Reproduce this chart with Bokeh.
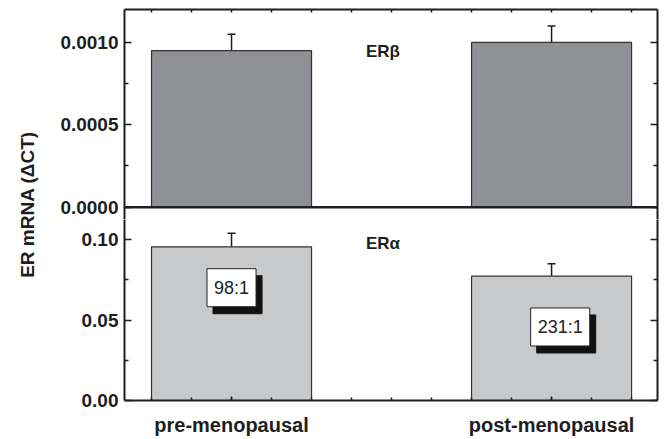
import math
from bokeh.plotting import figure
from bokeh.layouts import row, column
from bokeh.models import (Range1d, LinearAxis, FixedTicker, PrintfTickFormatter, Label,
                          ColumnDataSource, Whisker, TeeHead, Span, CustomJSTickFormatter)
from bokeh.embed import file_html
from bokeh.resources import INLINE

# ---------------- data ----------------
groups = ["pre-menopausal", "post-menopausal"]
er_beta_mean = [0.00095, 0.00100]
er_beta_err = [0.00010, 0.00010]
er_alpha_mean = [0.0955, 0.0773]
er_alpha_err = [0.0085, 0.0077]
ratio_labels = ["98:1", "231:1"]
ratio_x = [1.0, 2.027]
ratio_y = [0.0701, 0.0457]
beta_ticks = [0.0, 0.0005, 0.0010]
beta_minor = [0.00025, 0.00075]
alpha_ticks = [0.0, 0.05, 0.10]
alpha_minor = [0.025, 0.075]
y_title = "ER mRNA (\u0394CT)"
panel_titles = ["ER\u03b2", "ER\u03b1"]
panel_title_x = [1.42, 1.42]
panel_title_y = [0.000947, 0.0978]

FONT = "Liberation Sans"
DARK = "#1e1e1e"
BETA_FILL = "#8f9094"
ALPHA_FILL = "#c8c9cb"

xpos = [i + 1 for i in range(len(groups))]
x_minor = [0.75 + 0.125 * k for k in range(13)]
xr = Range1d(0.6656, 2.331)

TITLE_W = 48
FRAME_L = 76
FIG_W = 665 - TITLE_W
TOP_H = 219
BOT_H = 219


def style_axis(ax, label_size="19px", tick_in=7, minor_in=4):
    ax.axis_line_color = DARK
    ax.axis_line_width = 2
    ax.major_tick_line_color = DARK
    ax.major_tick_line_width = 1.5
    ax.minor_tick_line_color = DARK
    ax.minor_tick_line_width = 1.5
    ax.major_tick_in = tick_in
    ax.major_tick_out = 0
    ax.minor_tick_in = minor_in
    ax.minor_tick_out = 0
    ax.major_label_text_font = FONT
    ax.major_label_text_font_style = "bold"
    ax.major_label_text_font_size = label_size
    ax.major_label_text_color = DARK


def hide_labels(ax):
    ax.formatter = CustomJSTickFormatter(code="return ''")
    ax.major_label_text_color = None
    ax.major_label_text_font_size = "1px"
    ax.major_label_standoff = 0


def make_panel(height, yr, ticks, minor, fmt, means, errs, fill, border_top, border_bottom):
    p = figure(width=FIG_W, height=height, x_range=xr, y_range=yr,
               toolbar_location=None, output_backend="svg",
               x_axis_location=None, y_axis_location=None,
               min_border_left=FRAME_L, min_border_right=8,
               min_border_top=border_top, min_border_bottom=border_bottom)
    p.grid.visible = False
    p.outline_line_color = None
    p.background_fill_color = "white"
    p.border_fill_color = "white"

    left = LinearAxis(ticker=FixedTicker(ticks=ticks, minor_ticks=minor),
                      formatter=PrintfTickFormatter(format=fmt))
    style_axis(left)
    left.major_label_standoff = 6
    p.add_layout(left, "left")

    right = LinearAxis(ticker=FixedTicker(ticks=ticks, minor_ticks=minor))
    style_axis(right)
    hide_labels(right)
    p.add_layout(right, "right")

    src = ColumnDataSource(dict(x=xpos, mean=means,
                                upper=[m + e for m, e in zip(means, errs)]))
    w = Whisker(source=src, base="x", lower="mean", upper="upper", dimension="height",
                line_color=DARK, line_width=1.5,
                upper_head=TeeHead(size=8, line_color=DARK, line_width=1.5),
                lower_head=None)
    p.add_layout(w)
    p.vbar(x="x", top="mean", bottom=0, width=0.5, source=src,
           fill_color=fill, line_color="#333333", line_width=1.2)
    return p


# top panel (ER beta); its frame runs a little past zero so the 0.0000 label is not cut
top = make_panel(TOP_H, Range1d(-0.000075, 0.0012), beta_ticks, beta_minor, "%.4f",
                 er_beta_mean, er_beta_err, BETA_FILL, 9, 0)
top_ax = LinearAxis(ticker=FixedTicker(ticks=x_minor, minor_ticks=[]))
style_axis(top_ax, tick_in=3, minor_in=0)
hide_labels(top_ax)
top.add_layout(top_ax, "above")
top.add_layout(Span(location=0, dimension="width", line_color=DARK, line_width=2.5))

# bottom panel (ER alpha)
bot = make_panel(BOT_H, Range1d(0, 0.1125), alpha_ticks, alpha_minor, "%.2f",
                 er_alpha_mean, er_alpha_err, ALPHA_FILL, 0, 36)

xax = LinearAxis(ticker=FixedTicker(ticks=xpos, minor_ticks=x_minor))
style_axis(xax, label_size="20px", tick_in=4, minor_in=3)
xax.major_label_standoff = 13
xax.major_label_overrides = {x: g for x, g in zip(xpos, groups)}
bot.add_layout(xax, "below")

# panel titles
for p, t, tx, ty in zip([top, bot], panel_titles, panel_title_x, panel_title_y):
    p.add_layout(Label(x=tx, y=ty, text=t, text_font=FONT, text_font_style="bold",
                       text_font_size="17px", text_color=DARK, text_baseline="alphabetic"))

# ratio boxes with drop shadow
pad = dict(left=7, right=7, top=9, bottom=9)
for t, rx, ry in zip(ratio_labels, ratio_x, ratio_y):
    bot.add_layout(Label(x=rx, y=ry, text=t, text_font=FONT, text_font_size="18px",
                         text_color="#111111", text_align="center", text_baseline="middle",
                         background_fill_color="#111111", border_line_color="#111111",
                         padding=pad, x_offset=6, y_offset=-7))
    bot.add_layout(Label(x=rx, y=ry, text=t, text_font=FONT, text_font_size="18px",
                         text_color="#222222", text_align="center", text_baseline="middle",
                         background_fill_color="white", border_line_color="#222222",
                         border_line_width=1, padding=pad))

# y title spanning both panels
tf = figure(width=TITLE_W, height=TOP_H + BOT_H, toolbar_location=None, output_backend="svg",
            x_axis_location=None, y_axis_location=None, min_border=0,
            x_range=Range1d(0, 1), y_range=Range1d(0, 1))
tf.grid.visible = False
tf.outline_line_color = None
tf.add_layout(Label(x=27, y=TOP_H + BOT_H - 204, x_units="screen", y_units="screen",
                    text=y_title, angle=math.pi / 2, text_font=FONT, text_font_style="bold",
                    text_font_size="19px", text_color=DARK, text_align="center",
                    text_baseline="middle"))

layout = row(tf, column(top, bot, spacing=0), spacing=0)

with open("out.html", "w") as f:
    f.write(file_html(layout, INLINE))
